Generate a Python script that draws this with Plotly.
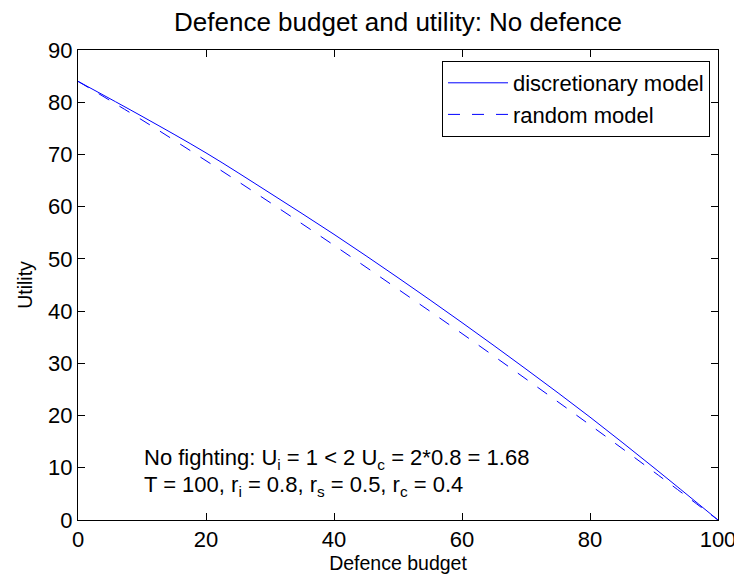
import plotly.graph_objects as go

budget = [0, 10, 20, 30, 40, 50, 60, 70, 80, 90, 100]
discretionary = [84.0, 77.3, 70.3, 62.6, 54.7, 46.4, 37.8, 28.9, 19.7, 10.0, 0.0]
random_model = [84.0, 76.6, 68.8, 60.8, 52.6, 44.2, 35.7, 27.0, 18.2, 9.2, 0.0]

x_ticks = [0, 20, 40, 60, 80, 100]
y_ticks = [0, 10, 20, 30, 40, 50, 60, 70, 80, 90]

FONT = "Liberation Sans, Arial, Helvetica, sans-serif"

fig = go.Figure()
fig.add_trace(go.Scatter(x=budget, y=discretionary, mode="lines", name="discretionary model",
                         line=dict(color="#0000ff", width=1), line_shape="spline"))
fig.add_trace(go.Scatter(x=budget, y=random_model, mode="lines", name="random model",
                         line=dict(color="#0000ff", width=1, dash="12px,12px"), line_shape="spline"))

fig.add_annotation(x=10, y=11.6, xref="x", yref="y", xanchor="left", yanchor="middle", showarrow=False,
                   text="No fighting: U<sub>i</sub> = 1 < 2 U<sub>c</sub> = 2*0.8 = 1.68",
                   font=dict(family=FONT, size=22, color="black"))
fig.add_annotation(x=10, y=6.6, xref="x", yref="y", xanchor="left", yanchor="middle", showarrow=False,
                   text="T = 100, r<sub>i</sub> = 0.8, r<sub>s</sub> = 0.5, r<sub>c</sub> = 0.4",
                   font=dict(family=FONT, size=22, color="black"))

# title as a paper annotation above the plot area
fig.add_annotation(x=0.5, y=1.0596, xref="paper", yref="paper", xanchor="center", yanchor="middle",
                   showarrow=False, text="Defence budget and utility: No defence",
                   font=dict(family=FONT, size=26, color="black"))

axis_common = dict(showline=True, linecolor="black", linewidth=1, mirror="allticks",
                   ticks="inside", ticklen=7, tickcolor="black", showgrid=False, zeroline=False,
                   automargin=False,
                   tickfont=dict(family=FONT, size=22, color="black"))

fig.update_xaxes(range=[0, 100], tickvals=x_ticks, title=dict(text="Defence budget", standoff=4,
                 font=dict(family=FONT, size=19.5, color="black")), **axis_common)
fig.update_yaxes(range=[0, 90], tickvals=y_ticks, title=dict(text="Utility", standoff=10,
                 font=dict(family=FONT, size=19.5, color="black")), **axis_common)

# the page body adds an 8px offset, so the figure is sized/offset to compensate
fig.update_layout(
    width=734, height=573,
    margin=dict(l=70, r=24, t=42, b=61),
    paper_bgcolor="white", plot_bgcolor="white",
    legend=dict(x=0.9875, y=0.9766, xanchor="right", yanchor="top", bgcolor="white",
                bordercolor="black", borderwidth=1, font=dict(family=FONT, size=22, color="black"),
                tracegroupgap=0, itemwidth=60),
    showlegend=True,
)

fig.write_html("out.html")
